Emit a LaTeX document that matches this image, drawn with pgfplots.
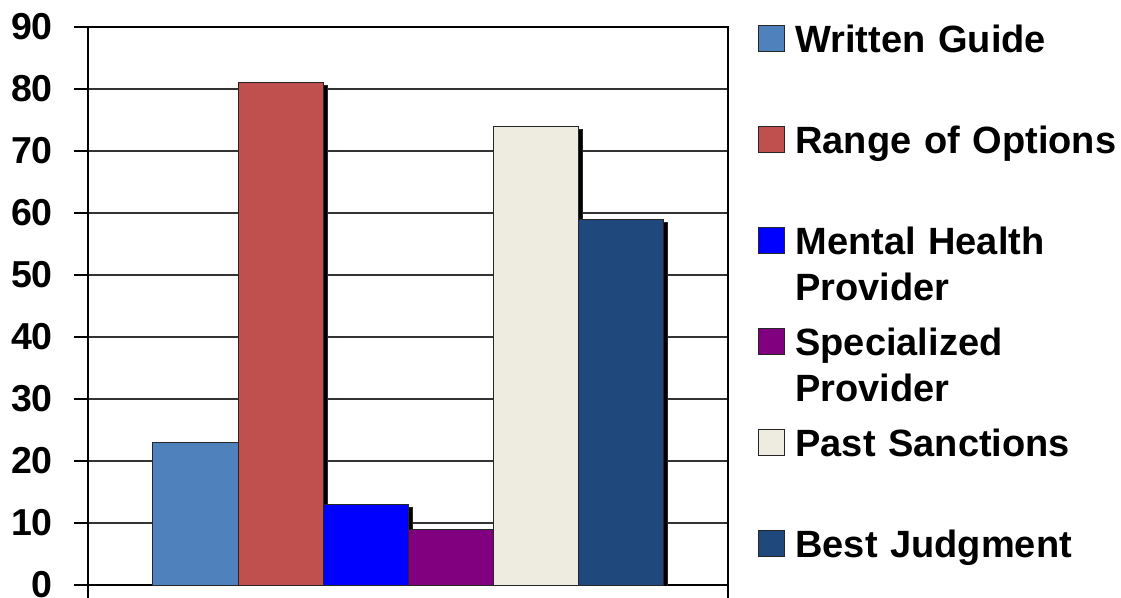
\documentclass[border=0pt]{standalone}
\usepackage{fontspec}
\setmainfont{Liberation Sans}
\usepackage{pgfplots}
\pgfplotsset{compat=1.18}
\usetikzlibrary{shadows}
\definecolor{cA}{HTML}{4F81BD}
\definecolor{cB}{HTML}{C0504D}
\definecolor{cC}{HTML}{0000FF}
\definecolor{cD}{HTML}{800080}
\definecolor{cE}{HTML}{EEECE1}
\definecolor{cF}{HTML}{1F497D}
\tikzset{barshadow/.style={drop shadow={shadow xshift=4pt, shadow yshift=-3pt, fill=black, opacity=1}}}
\begin{document}
\begin{tikzpicture}
\begin{axis}[
  at={(0,0)}, anchor=south west,
  scale only axis, width=640pt, height=558pt,
  xmin=0, xmax=1, ymin=0, ymax=90,
  xtick={0,1}, xticklabels={},
  ytick={0,10,...,90},
  xtick pos=bottom, ytick pos=left,
  tick align=outside, major tick length=14pt,
  tick style={black, line width=1.3pt},
  axis line style={black, line width=1.3pt},
  ymajorgrids, grid style={draw=black!80, line width=1.3pt},
  /pgf/number format/assume math mode=true,
  yticklabel style={font=\fontsize{37.5}{40}\selectfont\bfseries, inner sep=0pt, xshift=-21pt},
  legend image code/.code={\draw[#1] (0pt,1pt) rectangle (26pt,27pt);},
  legend style={at={(1,1)}, anchor=north west, xshift=30pt, yshift=3pt,
    draw=none, fill=none, inner sep=0pt, row sep=0pt, column sep=10pt,
    nodes={anchor=base west, inner sep=0pt, text width=330pt, align=left,
      text height=28pt, text depth=73pt, font=\fontsize{38}{46}\selectfont\bfseries}},
]
\addplot[ybar, bar width=85pt, bar shift=-212.5pt, fill=cA, draw=black!85, line width=1pt, barshadow, forget plot] coordinates {(0.5,23)};
\addplot[ybar, bar width=85pt, bar shift=-127.5pt, fill=cB, draw=black!85, line width=1pt, barshadow, forget plot] coordinates {(0.5,81)};
\addplot[ybar, bar width=85pt, bar shift=-42.5pt, fill=cC, draw=black!85, line width=1pt, barshadow, forget plot] coordinates {(0.5,13)};
\addplot[ybar, bar width=85pt, bar shift=42.5pt, fill=cD, draw=black!85, line width=1pt, barshadow, forget plot] coordinates {(0.5,9)};
\addplot[ybar, bar width=85pt, bar shift=127.5pt, fill=cE, draw=black!85, line width=1pt, barshadow, forget plot] coordinates {(0.5,74)};
\addplot[ybar, bar width=85pt, bar shift=212.5pt, fill=cF, draw=black!85, line width=1pt, barshadow, forget plot] coordinates {(0.5,59)};
\addlegendimage{fill=cA, draw=black!85, line width=1.2pt}
\addlegendentry{Written Guide}
\addlegendimage{fill=cB, draw=black!85, line width=1.2pt}
\addlegendentry{Range of Options}
\addlegendimage{fill=cC, draw=black!85, line width=1.2pt}
\addlegendentry{Mental Health\\Provider}
\addlegendimage{fill=cD, draw=black!85, line width=1.2pt}
\addlegendentry{Specialized\\Provider}
\addlegendimage{fill=cE, draw=black!85, line width=1.2pt}
\addlegendentry{Past Sanctions}
\addlegendimage{fill=cF, draw=black!85, line width=1.2pt}
\addlegendentry{Best Judgment}
\end{axis}
\pgfresetboundingbox
\useasboundingbox (-88pt,-12pt) rectangle (1033pt,585pt);
\end{tikzpicture}
\end{document}
